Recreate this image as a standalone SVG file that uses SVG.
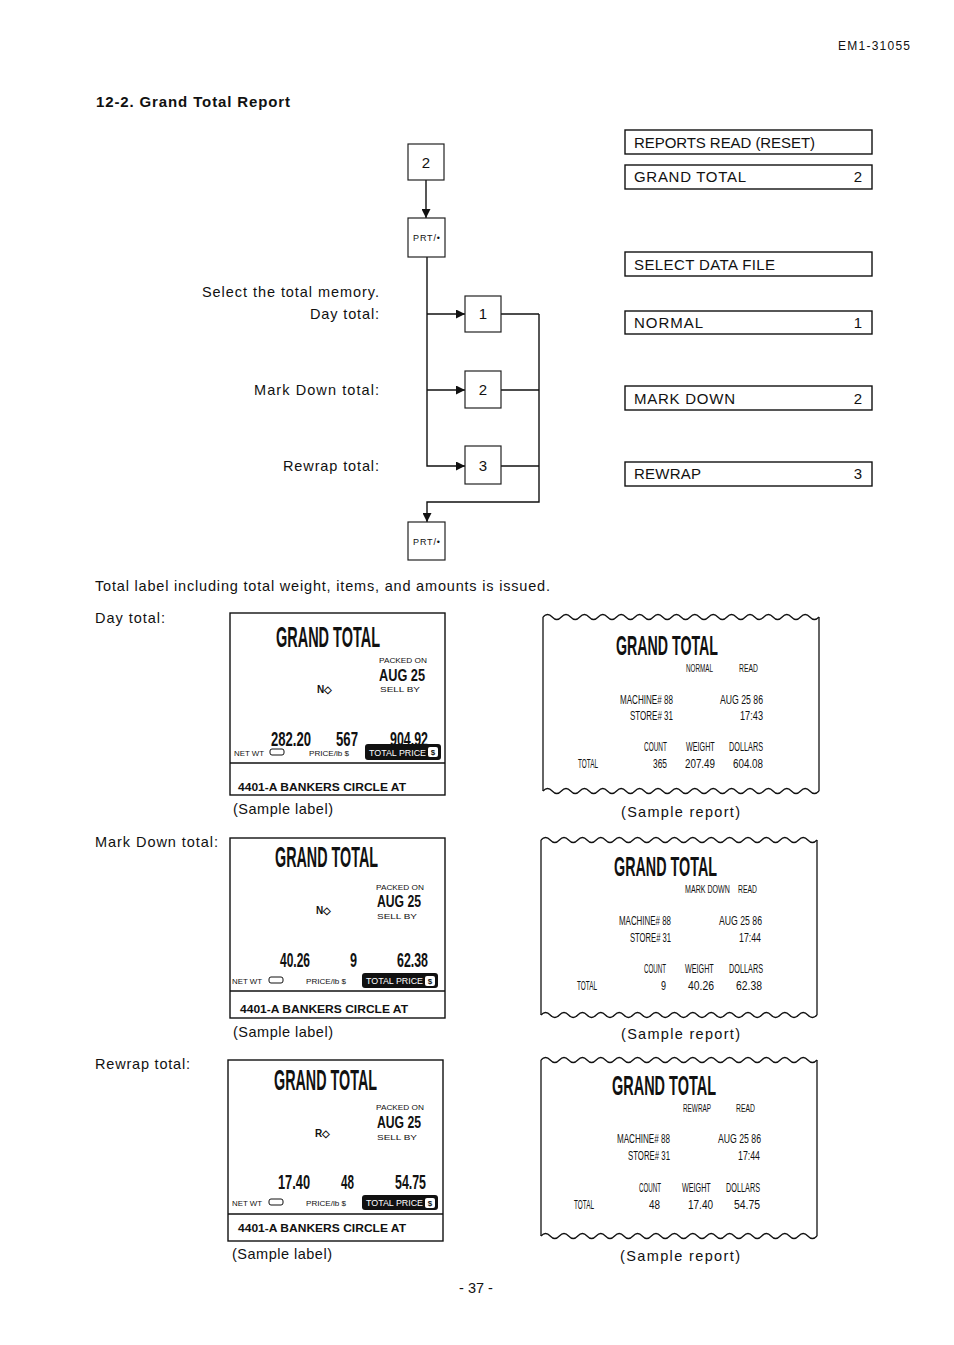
<svg xmlns="http://www.w3.org/2000/svg" width="954" height="1345" viewBox="0 0 954 1345">
<style>
text{font-family:"Liberation Sans",Arial,sans-serif;fill:#111}
.b{font-size:14.5px}
.k{font-size:15px}
.h{font-size:15px;font-weight:bold}
.box{fill:#fff;stroke:#111;stroke-width:1.4}
.kbox{fill:#fff;stroke:#222;stroke-width:1.2}
.kt{font-size:15px;text-anchor:middle}
.prt{font-size:9px}
.ln{fill:none;stroke:#111;stroke-width:1.4}
.gt{font-size:30px;font-weight:bold}
.rgt{font-size:28px;font-weight:bold}
.lbl{fill:none;stroke:#111;stroke-width:1.4}
.s8{font-size:8px}
.ag{font-size:16px;font-weight:bold}
.no{font-size:10px;font-weight:bold}
.num{font-size:20px;font-weight:bold}
.band{font-size:8px}
.wt{font-size:9px;fill:#fff}
.addr{font-size:10.5px;font-weight:bold}
.m{font-size:12px}
.sh{font-size:10px}
.wave{fill:none;stroke:#111;stroke-width:1.3}
</style>
<defs>
<marker id="ah" viewBox="0 0 10 10" refX="10" refY="5" markerWidth="9" markerHeight="9" markerUnits="userSpaceOnUse" orient="auto">
<path d="M0,0 L10,5 L0,10 z" fill="#111"/>
</marker>
<path id="wave" d="M0,0 q4.6,-5 9.2,0 t9.2,0 t9.2,0 t9.2,0 t9.2,0 t9.2,0 t9.2,0 t9.2,0 t9.2,0 t9.2,0 t9.2,0 t9.2,0 t9.2,0 t9.2,0 t9.2,0 t9.2,0 t9.2,0 t9.2,0 t9.2,0 t9.2,0 t9.2,0 t9.2,0 t9.2,0 t9.2,0 t9.2,0 t9.2,0 t9.2,0 t9.2,0 t9.2,0 t9.2,0"/>
</defs>

<g id="header">
<text x="838" y="50" style="font-size:12px" textLength="72">EM1-31055</text>
<text x="96" y="107" class="h" textLength="194">12-2. Grand Total Report</text>
</g>

<g id="flow-labels">
<text x="202" y="297" class="b" textLength="177">Select the total memory.</text>
<text x="310" y="319" class="b" textLength="69">Day total:</text>
<text x="254" y="395" class="b" textLength="125">Mark Down total:</text>
<text x="283" y="471" class="b" textLength="96">Rewrap total:</text>
</g>

<g id="connectors">
<line x1="426" y1="180" x2="426" y2="218" class="ln" marker-end="url(#ah)"/>
<path d="M427,257 V466 H465" class="ln" marker-end="url(#ah)"/>
<line x1="427" y1="314" x2="465" y2="314" class="ln" stroke-width="1" marker-end="url(#ah)"/>
<line x1="427" y1="390" x2="465" y2="390" class="ln" marker-end="url(#ah)"/>
<line x1="501" y1="314" x2="539" y2="314" class="ln" stroke-width="1"/>
<line x1="501" y1="390" x2="539" y2="390" class="ln"/>
<line x1="501" y1="466" x2="539" y2="466" class="ln"/>
<path d="M539,314 V502 H427 V522" class="ln" marker-end="url(#ah)"/>
</g>

<g id="key-2"><rect x="408" y="144" width="36" height="36" class="kbox"/><text x="426" y="168" class="kt">2</text></g>
<g id="key-prt1"><rect x="408" y="218" width="37" height="39" class="kbox"/><text x="413" y="241" class="prt" textLength="27">PRT/•</text></g>
<g id="key-1"><rect x="465" y="296" width="36" height="36" class="kbox"/><text x="483" y="319" class="kt">1</text></g>
<g id="key-2b"><rect x="465" y="371" width="36" height="37" class="kbox"/><text x="483" y="395" class="kt">2</text></g>
<g id="key-3"><rect x="465" y="446" width="36" height="38" class="kbox"/><text x="483" y="471" class="kt">3</text></g>
<g id="key-prt2"><rect x="408" y="522" width="37" height="38" class="kbox"/><text x="413" y="545" class="prt" textLength="27">PRT/•</text></g>

<g id="disp-reports"><rect x="625" y="130" width="247" height="24" class="box"/><text x="634" y="148" class="k" textLength="181">REPORTS READ (RESET)</text></g>
<g id="disp-grand"><rect x="625" y="165" width="247" height="24" class="box"/><text x="634" y="182" class="k" textLength="112">GRAND TOTAL</text><text x="862" y="182" class="k" text-anchor="end">2</text></g>
<g id="disp-select"><rect x="625" y="252" width="247" height="24" class="box"/><text x="634" y="270" class="k" textLength="141">SELECT DATA FILE</text></g>
<g id="disp-normal"><rect x="625" y="311" width="247" height="23" class="box"/><text x="634" y="328" class="k" textLength="69">NORMAL</text><text x="862" y="328" class="k" text-anchor="end">1</text></g>
<g id="disp-markdown"><rect x="625" y="386" width="247" height="24" class="box"/><text x="634" y="404" class="k" textLength="101">MARK DOWN</text><text x="862" y="404" class="k" text-anchor="end">2</text></g>
<g id="disp-rewrap"><rect x="625" y="462" width="247" height="24" class="box"/><text x="634" y="479" class="k" textLength="67">REWRAP</text><text x="862" y="479" class="k" text-anchor="end">3</text></g>

<g id="texts">
<text x="95" y="591" class="b" textLength="455">Total label including total weight, items, and amounts is issued.</text>
<text x="95" y="623" class="b" textLength="70">Day total:</text>
<text x="95" y="847" class="b" textLength="123">Mark Down total:</text>
<text x="95" y="1069" class="b" textLength="95">Rewrap total:</text>
<text x="233" y="814" class="b" textLength="100">(Sample label)</text>
<text x="233" y="1037" class="b" textLength="100">(Sample label)</text>
<text x="232" y="1259" class="b" textLength="100">(Sample label)</text>
<text x="621" y="817" class="b" textLength="119">(Sample report)</text>
<text x="621" y="1039" class="b" textLength="119">(Sample report)</text>
<text x="620" y="1261" class="b" textLength="120">(Sample report)</text>
<text x="476" y="1293" class="b" text-anchor="middle">- 37 -</text>
</g>

<g id="label-day">
<rect x="230" y="613" width="215" height="182" class="lbl"/>
<text x="276" y="647" class="gt" textLength="104" lengthAdjust="spacingAndGlyphs">GRAND TOTAL</text>
<text x="379" y="663" class="s8" textLength="48" lengthAdjust="spacingAndGlyphs">PACKED ON</text>
<text x="379" y="681" class="ag" textLength="46" lengthAdjust="spacingAndGlyphs">AUG 25</text>
<text x="317" y="693" class="no">N◇</text>
<text x="380" y="692" class="s8" textLength="40" lengthAdjust="spacingAndGlyphs">SELL  BY</text>
<text x="271" y="746" class="num" textLength="40" lengthAdjust="spacingAndGlyphs">282.20</text>
<text x="336" y="746" class="num" textLength="22" lengthAdjust="spacingAndGlyphs">567</text>
<text x="390" y="746" class="num" textLength="38" lengthAdjust="spacingAndGlyphs">904.92</text>
<text x="234" y="756" class="band" textLength="30" lengthAdjust="spacingAndGlyphs">NET WT</text>
<rect x="270" y="749" width="14" height="6" rx="2" fill="none" stroke="#111" stroke-width="1"/>
<text x="309" y="756" class="band" textLength="40" lengthAdjust="spacingAndGlyphs">PRICE/lb $</text>
<rect x="365" y="744" width="76" height="16" rx="3" fill="#111"/>
<text x="369" y="756" class="wt" textLength="57" lengthAdjust="spacingAndGlyphs">TOTAL PRICE</text>
<rect x="428" y="747" width="10" height="10" rx="2" fill="#fff"/>
<text x="433" y="755" class="s8" text-anchor="middle" font-weight="bold">$</text>
<line x1="230" y1="763" x2="445" y2="763" class="lbl"/>
<text x="238" y="791" class="addr" textLength="168" lengthAdjust="spacingAndGlyphs">4401-A BANKERS CIRCLE AT</text>
</g>

<g id="label-markdown">
<rect x="230" y="838" width="215" height="180" class="lbl"/>
<text x="275" y="867" class="gt" textLength="103" lengthAdjust="spacingAndGlyphs">GRAND TOTAL</text>
<text x="376" y="890" class="s8" textLength="48" lengthAdjust="spacingAndGlyphs">PACKED ON</text>
<text x="377" y="907" class="ag" textLength="44" lengthAdjust="spacingAndGlyphs">AUG 25</text>
<text x="316" y="914" class="no">N◇</text>
<text x="377" y="919" class="s8" textLength="40" lengthAdjust="spacingAndGlyphs">SELL  BY</text>
<text x="280" y="967" class="num" textLength="30" lengthAdjust="spacingAndGlyphs">40.26</text>
<text x="350" y="967" class="num" textLength="7" lengthAdjust="spacingAndGlyphs">9</text>
<text x="397" y="967" class="num" textLength="31" lengthAdjust="spacingAndGlyphs">62.38</text>
<text x="232" y="984" class="band" textLength="30" lengthAdjust="spacingAndGlyphs">NET WT</text>
<rect x="269" y="977" width="14" height="6" rx="2" fill="none" stroke="#111" stroke-width="1"/>
<text x="306" y="984" class="band" textLength="40" lengthAdjust="spacingAndGlyphs">PRICE/lb $</text>
<rect x="362" y="973" width="76" height="15" rx="3" fill="#111"/>
<text x="366" y="984" class="wt" textLength="57" lengthAdjust="spacingAndGlyphs">TOTAL PRICE</text>
<rect x="425" y="976" width="10" height="10" rx="2" fill="#fff"/>
<text x="430" y="984" class="s8" text-anchor="middle" font-weight="bold">$</text>
<line x1="230" y1="991" x2="445" y2="991" class="lbl"/>
<text x="240" y="1013" class="addr" textLength="168" lengthAdjust="spacingAndGlyphs">4401-A BANKERS CIRCLE AT</text>
</g>

<g id="label-rewrap">
<rect x="228" y="1060" width="215" height="181" class="lbl"/>
<text x="274" y="1090" class="gt" textLength="103" lengthAdjust="spacingAndGlyphs">GRAND TOTAL</text>
<text x="376" y="1110" class="s8" textLength="48" lengthAdjust="spacingAndGlyphs">PACKED ON</text>
<text x="377" y="1128" class="ag" textLength="44" lengthAdjust="spacingAndGlyphs">AUG 25</text>
<text x="315" y="1137" class="no">R◇</text>
<text x="377" y="1140" class="s8" textLength="40" lengthAdjust="spacingAndGlyphs">SELL  BY</text>
<text x="278" y="1189" class="num" textLength="32" lengthAdjust="spacingAndGlyphs">17.40</text>
<text x="341" y="1189" class="num" textLength="13" lengthAdjust="spacingAndGlyphs">48</text>
<text x="395" y="1189" class="num" textLength="31" lengthAdjust="spacingAndGlyphs">54.75</text>
<text x="232" y="1206" class="band" textLength="30" lengthAdjust="spacingAndGlyphs">NET WT</text>
<rect x="269" y="1199" width="14" height="6" rx="2" fill="none" stroke="#111" stroke-width="1"/>
<text x="306" y="1206" class="band" textLength="40" lengthAdjust="spacingAndGlyphs">PRICE/lb $</text>
<rect x="362" y="1195" width="76" height="15" rx="3" fill="#111"/>
<text x="366" y="1206" class="wt" textLength="57" lengthAdjust="spacingAndGlyphs">TOTAL PRICE</text>
<rect x="425" y="1198" width="10" height="10" rx="2" fill="#fff"/>
<text x="430" y="1206" class="s8" text-anchor="middle" font-weight="bold">$</text>
<line x1="228" y1="1214" x2="443" y2="1214" class="lbl"/>
<text x="238" y="1232" class="addr" textLength="168" lengthAdjust="spacingAndGlyphs">4401-A BANKERS CIRCLE AT</text>
</g>

<g id="report-normal" transform="translate(543,617)">
<use href="#wave" class="wave"/>
<use href="#wave" class="wave" y="174"/>
<line x1="0" y1="0" x2="0" y2="174" class="wave"/>
<line x1="276" y1="0" x2="276" y2="174" class="wave"/>
<text x="73" y="38" class="rgt" textLength="102" lengthAdjust="spacingAndGlyphs">GRAND TOTAL</text>
<text x="143" y="55" class="sh" textLength="27" lengthAdjust="spacingAndGlyphs">NORMAL</text>
<text x="196" y="55" class="sh" textLength="19" lengthAdjust="spacingAndGlyphs">READ</text>
<text x="77" y="87" class="m" textLength="53" lengthAdjust="spacingAndGlyphs">MACHINE# 88</text>
<text x="177" y="87" class="m" textLength="43" lengthAdjust="spacingAndGlyphs">AUG 25 86</text>
<text x="87" y="103" class="m" textLength="43" lengthAdjust="spacingAndGlyphs">STORE# 31</text>
<text x="197" y="103" class="m" textLength="23" lengthAdjust="spacingAndGlyphs">17:43</text>
<text x="101" y="134" class="m" textLength="23" lengthAdjust="spacingAndGlyphs">COUNT</text>
<text transform="translate(143,134) scale(0.6,1)" class="m">WEIGHT</text>
<text x="186" y="134" class="m" textLength="34" lengthAdjust="spacingAndGlyphs">DOLLARS</text>
<text x="35" y="151" class="m" textLength="20" lengthAdjust="spacingAndGlyphs">TOTAL</text>
<text x="110" y="151" class="m" textLength="14" lengthAdjust="spacingAndGlyphs">365</text>
<text x="142" y="151" class="m" textLength="30" lengthAdjust="spacingAndGlyphs">207.49</text>
<text x="190" y="151" class="m" textLength="30" lengthAdjust="spacingAndGlyphs">604.08</text>
</g>

<g id="report-markdown" transform="translate(541,840)">
<use href="#wave" class="wave"/>
<use href="#wave" class="wave" y="175"/>
<line x1="0" y1="0" x2="0" y2="175" class="wave"/>
<line x1="276" y1="0" x2="276" y2="175" class="wave"/>
<text x="73" y="36" class="rgt" textLength="103" lengthAdjust="spacingAndGlyphs">GRAND TOTAL</text>
<text transform="translate(144,53) scale(0.71,1)" class="sh">MARK DOWN</text>
<text x="197" y="53" class="sh" textLength="19" lengthAdjust="spacingAndGlyphs">READ</text>
<text x="78" y="85" class="m" textLength="52" lengthAdjust="spacingAndGlyphs">MACHINE# 88</text>
<text x="178" y="85" class="m" textLength="43" lengthAdjust="spacingAndGlyphs">AUG 25 86</text>
<text x="89" y="102" class="m" textLength="41" lengthAdjust="spacingAndGlyphs">STORE# 31</text>
<text x="198" y="102" class="m" textLength="22" lengthAdjust="spacingAndGlyphs">17:44</text>
<text x="103" y="133" class="m" textLength="22" lengthAdjust="spacingAndGlyphs">COUNT</text>
<text transform="translate(144,133) scale(0.6,1)" class="m">WEIGHT</text>
<text x="188" y="133" class="m" textLength="34" lengthAdjust="spacingAndGlyphs">DOLLARS</text>
<text x="36" y="150" class="m" textLength="20" lengthAdjust="spacingAndGlyphs">TOTAL</text>
<text x="120" y="150" class="m" textLength="5" lengthAdjust="spacingAndGlyphs">9</text>
<text x="147" y="150" class="m" textLength="26" lengthAdjust="spacingAndGlyphs">40.26</text>
<text x="195" y="150" class="m" textLength="26" lengthAdjust="spacingAndGlyphs">62.38</text>
</g>

<g id="report-rewrap" transform="translate(541,1060)">
<use href="#wave" class="wave"/>
<use href="#wave" class="wave" y="176"/>
<line x1="0" y1="0" x2="0" y2="176" class="wave"/>
<line x1="276" y1="0" x2="276" y2="176" class="wave"/>
<text x="71" y="35" class="rgt" textLength="104" lengthAdjust="spacingAndGlyphs">GRAND TOTAL</text>
<text x="142" y="52" class="sh" textLength="28" lengthAdjust="spacingAndGlyphs">REWRAP</text>
<text x="195" y="52" class="sh" textLength="19" lengthAdjust="spacingAndGlyphs">READ</text>
<text x="76" y="83" class="m" textLength="53" lengthAdjust="spacingAndGlyphs">MACHINE# 88</text>
<text x="177" y="83" class="m" textLength="43" lengthAdjust="spacingAndGlyphs">AUG 25 86</text>
<text x="87" y="100" class="m" textLength="42" lengthAdjust="spacingAndGlyphs">STORE# 31</text>
<text x="197" y="100" class="m" textLength="22" lengthAdjust="spacingAndGlyphs">17:44</text>
<text x="98" y="132" class="m" textLength="22" lengthAdjust="spacingAndGlyphs">COUNT</text>
<text transform="translate(141,132) scale(0.6,1)" class="m">WEIGHT</text>
<text x="185" y="132" class="m" textLength="34" lengthAdjust="spacingAndGlyphs">DOLLARS</text>
<text x="33" y="149" class="m" textLength="20" lengthAdjust="spacingAndGlyphs">TOTAL</text>
<text x="108" y="149" class="m" textLength="11" lengthAdjust="spacingAndGlyphs">48</text>
<text x="147" y="149" class="m" textLength="25" lengthAdjust="spacingAndGlyphs">17.40</text>
<text x="193" y="149" class="m" textLength="26" lengthAdjust="spacingAndGlyphs">54.75</text>
</g>
</svg>
